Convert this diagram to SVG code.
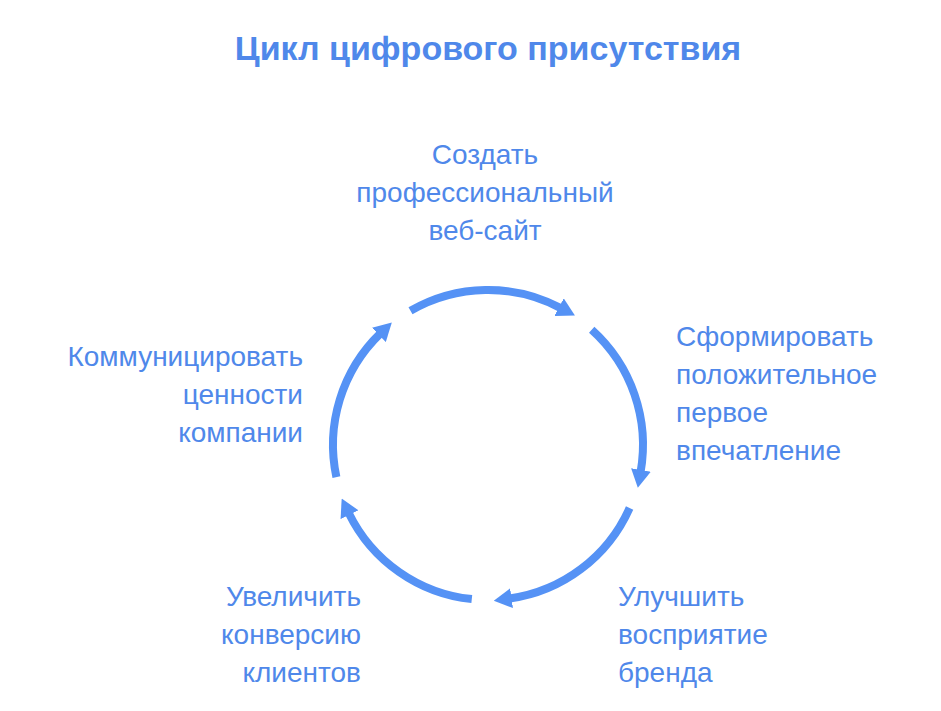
<svg xmlns="http://www.w3.org/2000/svg" width="941" height="711" viewBox="0 0 941 711">
<style>
.t{font-family:"Liberation Sans",Arial,sans-serif;font-size:28px;fill:#4f88ea}
.a{fill:none;stroke:#5592f5;stroke-width:8;marker-end:url(#ah)}
</style>
<defs><marker id="ah" markerUnits="userSpaceOnUse" markerWidth="18" markerHeight="20" viewBox="0 0 18 20" refX="2" refY="10" orient="auto"><path d="M0,0 L18,10 L0,20 Z" fill="#5592f5"/></marker></defs>
<rect width="941" height="711" fill="#fff"/>
<text x="488" y="60" text-anchor="middle" style="font-family:'Liberation Sans',Arial,sans-serif;font-size:34px;font-weight:bold;fill:#4f88ea">Цикл цифрового присутствия</text>
<g id="connectors">
<path class="a" d="M410.5,310.8 A155,155 0 0 1 560.8,308.1"/>
<path class="a" d="M591.7,329.8 A155,155 0 0 1 640.6,471.9"/>
<path class="a" d="M629.6,508.0 A155,155 0 0 1 509.6,598.5"/>
<path class="a" d="M471.8,599.1 A155,155 0 0 1 348.7,512.9"/>
<path class="a" d="M336.4,477.2 A155,155 0 0 1 380.3,333.5"/>
</g>
<g id="n1"><text class="t" text-anchor="middle" x="485"><tspan x="485" y="164">Создать</tspan><tspan x="485" y="202">профессиональный</tspan><tspan x="485" y="240">веб-сайт</tspan></text></g>
<g id="n2"><text class="t"><tspan x="676" y="346">Сформировать</tspan><tspan x="676" y="384">положительное</tspan><tspan x="676" y="422">первое</tspan><tspan x="676" y="460">впечатление</tspan></text></g>
<g id="n3"><text class="t"><tspan x="618" y="606">Улучшить</tspan><tspan x="618" y="644">восприятие</tspan><tspan x="618" y="682">бренда</tspan></text></g>
<g id="n4"><text class="t" text-anchor="end"><tspan x="361" y="606">Увеличить</tspan><tspan x="361" y="644">конверсию</tspan><tspan x="361" y="682">клиентов</tspan></text></g>
<g id="n5"><text class="t" text-anchor="end"><tspan x="303" y="366">Коммуницировать</tspan><tspan x="303" y="404">ценности</tspan><tspan x="303" y="442">компании</tspan></text></g>
</svg>
